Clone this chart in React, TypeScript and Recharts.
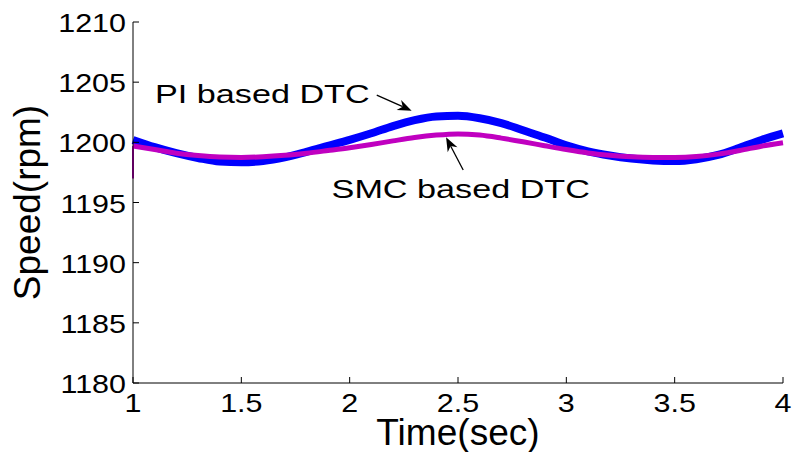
import { Label, Line, LineChart, ReferenceDot, ReferenceLine, XAxis, YAxis } from "recharts";

const TIME = [1.0, 1.1, 1.2, 1.3, 1.4, 1.5, 1.6, 1.7, 1.8, 1.9, 2.0, 2.1, 2.2, 2.3, 2.4, 2.5, 2.6, 2.7, 2.8, 2.9, 3.0, 3.1, 3.2, 3.3, 3.4, 3.5, 3.6, 3.7, 3.8, 3.9, 4.0];
const PI_SPEED = [1200.2, 1199.6, 1199.1, 1198.7, 1198.4, 1198.35, 1198.45, 1198.75, 1199.2, 1199.7, 1200.2, 1200.75, 1201.35, 1201.85, 1202.15, 1202.2, 1202.0, 1201.6, 1201.0, 1200.4, 1199.75, 1199.25, 1198.9, 1198.65, 1198.5, 1198.45, 1198.6, 1198.95, 1199.55, 1200.2, 1200.75];
const SMC_SPEED = [1199.7, 1199.4, 1199.1, 1198.9, 1198.78, 1198.75, 1198.8, 1198.92, 1199.1, 1199.32, 1199.55, 1199.82, 1200.12, 1200.4, 1200.6, 1200.7, 1200.6, 1200.35, 1200.05, 1199.72, 1199.4, 1199.12, 1198.93, 1198.8, 1198.75, 1198.75, 1198.82, 1199.02, 1199.32, 1199.68, 1199.97];
// SMC trace starts with a short dip at t = 1
const SMC_START = [1197.0, 1199.7];

const X_TICKS = [1, 1.5, 2, 2.5, 3, 3.5, 4];
const Y_TICKS = [1180, 1185, 1190, 1195, 1200, 1205, 1210];

// annotations: [time, speed]
const PI_LABEL = [1.1015, 1203.24];
const SMC_LABEL = [1.9166, 1195.37];
const PI_ARROW = [[2.125, 1203.93], [2.286, 1202.63]];
const SMC_ARROW = [[2.524, 1197.7], [2.445, 1200.42]];

const FONT = "'Liberation Sans', Arial, Helvetica, sans-serif";
const TICK_LEN = 6;

const rows = TIME.map((t, i) => ({ t, pi: PI_SPEED[i], smc: SMC_SPEED[i] }));
const dipRows = SMC_START.map((v) => ({ t: TIME[0], dip: v }));

function StretchText({ x, y, sx = 1, size = 26.5, anchor = "start", rotate = 0, children }: any) {
  return (
    <text
      transform={`translate(${x} ${y}) rotate(${rotate}) scale(${sx} 1)`}
      textAnchor={anchor}
      fontFamily={FONT}
      fontSize={size}
      fill="#000"
    >
      {children}
    </text>
  );
}

function BottomTick({ x, y, payload }: any) {
  return (
    <g>
      <line x1={x} x2={x} y1={y} y2={y - TICK_LEN} stroke="#000" />
      <StretchText x={x} y={y + 29} sx={1.15} anchor="middle">{String(payload.value)}</StretchText>
    </g>
  );
}

function LeftTick({ x, y, payload }: any) {
  return (
    <g>
      <line x1={x} x2={x + TICK_LEN} y1={y} y2={y} stroke="#000" />
      <StretchText x={x - 7} y={y + 10} sx={1.15} anchor="end">{String(payload.value)}</StretchText>
    </g>
  );
}

function TopTick({ x, y }: any) {
  return <line x1={x} x2={x} y1={y} y2={y + TICK_LEN} stroke="#000" />;
}

function RightTick({ x, y }: any) {
  return <line x1={x} x2={x - TICK_LEN} y1={y} y2={y} stroke="#000" />;
}

function TimeTitle({ viewBox }: any) {
  return (
    <StretchText x={viewBox.x + viewBox.width / 2} y={viewBox.y + 62} size={36} sx={1.03} anchor="middle">
      Time(sec)
    </StretchText>
  );
}

function SpeedTitle({ viewBox }: any) {
  return (
    <StretchText x={viewBox.x + 40} y={viewBox.y + viewBox.height / 2} size={37} anchor="middle" rotate={-90}>
      Speed(rpm)
    </StretchText>
  );
}

function Arrow({ x1, y1, x2, y2 }: any) {
  const len = Math.hypot(x2 - x1, y2 - y1);
  const ux = (x2 - x1) / len;
  const uy = (y2 - y1) / len;
  const hl = 14;
  const hw = 5.5;
  const bx = x2 - ux * hl;
  const by = y2 - uy * hl;
  const nx = x2 - ux * hl * 0.7;
  const ny = y2 - uy * hl * 0.7;
  const pts = [
    [x2, y2],
    [bx - uy * hw, by + ux * hw],
    [nx, ny],
    [bx + uy * hw, by - ux * hw],
  ]
    .map((p) => p.join(","))
    .join(" ");
  return (
    <g>
      <line x1={x1} y1={y1} x2={nx} y2={ny} stroke="#000" strokeWidth={1.3} />
      <polygon points={pts} fill="#000" />
    </g>
  );
}

export default function App() {
  return (
    <div style={{ position: "absolute", left: 0, top: 0, background: "#fff" }}>
      <LineChart width={794} height={452} data={rows} margin={{ top: 22, right: 11, bottom: 0, left: 0 }}>
        <XAxis
          dataKey="t"
          type="number"
          domain={[1, 4]}
          ticks={X_TICKS}
          interval={0}
          height={69}
          tickSize={0}
          tickMargin={0}
          tickLine={false}
          tick={<BottomTick />}
          axisLine={{ stroke: "#000" }}
          label={<Label content={<TimeTitle />} />}
        />
        <XAxis
          xAxisId="top"
          orientation="top"
          type="number"
          domain={[1, 4]}
          ticks={X_TICKS}
          interval={0}
          height={0}
          tickSize={0}
          tickMargin={0}
          tickLine={false}
          tick={<TopTick />}
          axisLine={{ stroke: "#000" }}
        />
        <YAxis
          type="number"
          domain={[1180, 1210]}
          ticks={Y_TICKS}
          interval={0}
          width={133}
          tickSize={0}
          tickMargin={0}
          tickLine={false}
          tick={<LeftTick />}
          axisLine={{ stroke: "#000" }}
          label={<Label content={<SpeedTitle />} />}
        />
        <YAxis
          yAxisId="right"
          orientation="right"
          type="number"
          domain={[1180, 1210]}
          ticks={Y_TICKS}
          interval={0}
          width={0}
          tickSize={0}
          tickMargin={0}
          tickLine={false}
          tick={<RightTick />}
          axisLine={{ stroke: "#000" }}
        />
        <Line
          data={dipRows}
          dataKey="dip"
          type="linear"
          stroke="#c000c0"
          strokeWidth={2}
          dot={false}
          isAnimationActive={false}
        />
        <Line dataKey="pi" type="monotone" stroke="#0000ff" strokeWidth={8} dot={false} isAnimationActive={false} />
        <Line dataKey="smc" type="monotone" stroke="#c000c0" strokeWidth={5} dot={false} isAnimationActive={false} />
        <ReferenceLine
          segment={[
            { x: PI_ARROW[0][0], y: PI_ARROW[0][1] },
            { x: PI_ARROW[1][0], y: PI_ARROW[1][1] },
          ]}
          shape={(p: any) => <Arrow {...p} />}
        />
        <ReferenceLine
          segment={[
            { x: SMC_ARROW[0][0], y: SMC_ARROW[0][1] },
            { x: SMC_ARROW[1][0], y: SMC_ARROW[1][1] },
          ]}
          shape={(p: any) => <Arrow {...p} />}
        />
        <ReferenceDot
          x={PI_LABEL[0]}
          y={PI_LABEL[1]}
          r={0}
          shape={(p: any) => <StretchText x={p.cx} y={p.cy} sx={1.29}>PI based DTC</StretchText>}
        />
        <ReferenceDot
          x={SMC_LABEL[0]}
          y={SMC_LABEL[1]}
          r={0}
          shape={(p: any) => <StretchText x={p.cx} y={p.cy} sx={1.29}>SMC based DTC</StretchText>}
        />
      </LineChart>
    </div>
  );
}
